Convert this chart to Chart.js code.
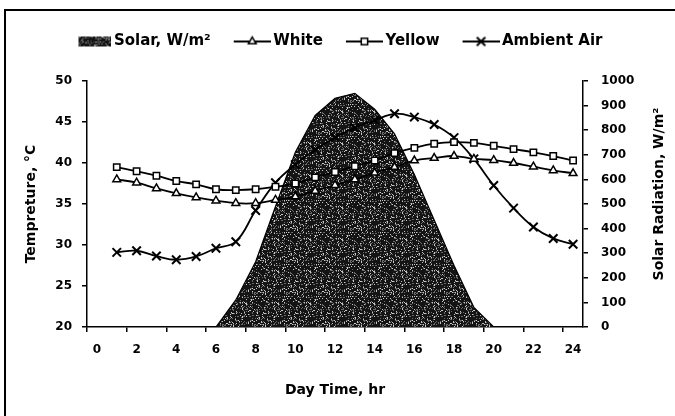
<!DOCTYPE html>
<html>
<head>
<meta charset="utf-8">
<script src="https://cdn.jsdelivr.net/npm/chart.js@4.4.1/dist/chart.umd.min.js"></script>
<style>
  html, body { margin: 0; padding: 0; background: #fff; }
  .wrap { position: relative; width: 675px; height: 416px; overflow: hidden; }
  .frame { position: absolute; left: 4px; top: 9px; width: 700px; height: 500px;
           border-left: 2px solid #000; border-top: 2px solid #000; }
  #chart { position: absolute; left: 0; top: 0; }
</style>
</head>
<body>
<div class="wrap">
  <div class="frame"></div>
  <canvas id="chart" width="675" height="416"></canvas>
</div>
<script>
// day time categories, hour 0..24
const hours = ['0','1','2','3','4','5','6','7','8','9','10','11','12',
               '13','14','15','16','17','18','19','20','21','22','23','24'];

// solar radiation, W/m2 (right axis)
const solar   = [null, 0, 0, 0, 0, 0, 0, 110, 265, 490, 710, 860, 930,
                 950, 885, 785, 620, 435, 250, 80, 0, 0, 0, 0, 0];

// temperatures, deg C (left axis)
const white   = [null, 38.0, 37.6, 36.9, 36.3, 35.8, 35.4, 35.1, 35.1, 35.5, 35.9, 36.6, 37.3,
                 38.0, 38.8, 39.5, 40.3, 40.6, 40.85, 40.5, 40.35, 40.0, 39.55, 39.1, 38.75];
const yellow  = [null, 39.5, 39.0, 38.45, 37.8, 37.4, 36.8, 36.7, 36.8, 37.1, 37.5, 38.25, 38.9,
                 39.6, 40.3, 41.2, 41.85, 42.35, 42.55, 42.45, 42.1, 41.7, 41.3, 40.85, 40.3];
const ambient = [null, 29.1, 29.3, 28.65, 28.2, 28.6, 29.6, 30.4, 34.2, 37.6, 39.8, 41.6, 43.1,
                 44.3, 45.2, 46.0, 45.6, 44.7, 43.1, 40.5, 37.25, 34.5, 32.2, 30.8, 30.1];

const tempTicks  = [20, 25, 30, 35, 40, 45, 50];
const solarTicks = [0, 100, 200, 300, 400, 500, 600, 700, 800, 900, 1000];

const font = 'DejaVu Sans';
Chart.defaults.font.family = font;
Chart.defaults.font.weight = 'bold';
Chart.defaults.font.size = 12;
Chart.defaults.color = '#000';

// dark speckled fill like the scanned area
function speckle() {
    const c = document.createElement('canvas');
    c.width = 32; c.height = 32;
    const g = c.getContext('2d');
    g.fillStyle = '#141414';
    g.fillRect(0, 0, 32, 32);
    for (let j = 0; j < 32; j++) {
        for (let i = 0; i < 32; i++) {
            const h = (((i * 73856093) ^ (j * 19349663) ^ (i * j * 83492791)) >>> 0) % 100;
            if (h < 9) g.fillStyle = '#c8c8c8';
            else if (h < 24) g.fillStyle = '#6a6a6a';
            else continue;
            g.fillRect(i, j, 1, 1);
        }
    }
    return c;
}
const speckleCanvas = speckle();
const solarFill = document.createElement('canvas').getContext('2d').createPattern(speckleCanvas, 'repeat');

// legend icons: short line with the marker in the middle
function lineIcon(style, radius, bw) {
    const c = document.createElement('canvas');
    c.width = 44; c.height = 16;
    const g = c.getContext('2d');
    g.strokeStyle = '#000';
    g.lineWidth = 2;
    g.beginPath(); g.moveTo(7, 8); g.lineTo(44, 8); g.stroke();
    g.fillStyle = '#fff';
    g.lineWidth = bw;
    Chart.helpers.drawPoint(g, { pointStyle: style, radius, borderWidth: bw }, 25.5, 8);
    return c;
}
function swatchIcon() {
    const c = document.createElement('canvas');
    c.width = 44; c.height = 16;
    const g = c.getContext('2d');
    g.fillStyle = g.createPattern(speckleCanvas, 'repeat');
    g.fillRect(11, 3, 33, 10);
    return c;
}
const icons = [swatchIcon(), lineIcon('triangle', 4.5, 1.5), lineIcon('rect', 4.5, 1.5), lineIcon('crossRot', 6, 2)];

const legendGap = {
    id: 'legendGap',
    beforeUpdate(chart) {
        const lg = chart.legend;
        if (lg && !lg._patched) {
            const fit = lg.fit;
            lg.fit = function () { fit.call(this); this.height += 22; };
            lg._patched = true;
        }
    }
};

const rightTitle = {
    id: 'rightTitle',
    afterDraw(chart) {
        const g = chart.ctx;
        const s = chart.scales.y2;
        g.save();
        g.translate(s.right - 16, (chart.chartArea.top + chart.chartArea.bottom) / 2 - 10);
        g.rotate(-Math.PI / 2);
        g.font = 'bold 14px "' + font + '"';
        g.fillStyle = '#000';
        g.textAlign = 'center';
        g.textBaseline = 'middle';
        g.fillText('Solar Radiation, W/m²', 0, 0);
        g.restore();
    }
};

const tempLine = (label, data, style, radius, bw) => ({
    type: 'line',
    label, data,
    yAxisID: 'y',
    order: 0,
    borderColor: '#000',
    borderWidth: 1.8,
    tension: 0.4,
    fill: false,
    pointStyle: style,
    pointRadius: radius,
    pointBorderWidth: bw,
    pointBackgroundColor: '#fff',
    pointBorderColor: '#000'
});

new Chart(document.getElementById('chart'), {
    type: 'line',
    data: {
        labels: hours,
        datasets: [
            {
                label: 'Solar, W/m²',
                data: solar,
                yAxisID: 'y2',
                order: 1,
                fill: 'origin',
                backgroundColor: solarFill,
                borderColor: '#000',
                borderWidth: 1.2,
                tension: 0,
                pointRadius: 0
            },
            tempLine('White', white, 'triangle', 4.5, 1.5),
            tempLine('Yellow', yellow, 'rect', 4.5, 1.5),
            tempLine('Ambient Air', ambient, 'crossRot', 6, 2)
        ]
    },
    options: {
        responsive: false,
        animation: false,
        devicePixelRatio: 1,
        layout: { padding: { top: 13, left: 0, right: 0, bottom: 0 } },
        plugins: {
            tooltip: { enabled: false },
            legend: {
                position: 'top',
                labels: {
                    usePointStyle: true,
                    pointStyleWidth: 34,
                    padding: 21,
                    color: '#000',
                    font: { family: font, weight: 'bold', size: 15 },
                    generateLabels(chart) {
                        return chart.data.datasets.map((ds, i) => ({
                            text: ds.label,
                            pointStyle: icons[i],
                            fillStyle: '#000',
                            strokeStyle: '#000',
                            lineWidth: 0,
                            hidden: false,
                            datasetIndex: i
                        }));
                    }
                }
            }
        },
        scales: {
            x: {
                type: 'category',
                offset: true,
                afterFit(s) { s.height = 89; },
                border: { display: true, color: '#000', width: 1.5 },
                grid: {
                    display: true,
                    drawOnChartArea: false,
                    drawTicks: true,
                    tickLength: 5,
                    offset: true,
                    lineWidth: 1.5,
                    color: c => c.index % 2 === 0 ? '#000' : 'rgba(0,0,0,0)'
                },
                ticks: {
                    autoSkip: false,
                    maxRotation: 0,
                    padding: 11,
                    callback: (v, i) => i % 2 === 0 ? hours[i] : ''
                },
                title: {
                    display: true,
                    text: 'Day Time, hr',
                    font: { size: 14, weight: 'bold' },
                    padding: { top: 0, bottom: 17 }
                }
            },
            y: {
                position: 'left',
                min: 20, max: 50,
                afterFit(s) { s.width = 87; },
                afterBuildTicks(s) { s.ticks = tempTicks.map(v => ({ value: v })); },
                border: { display: true, color: '#000', width: 1.5 },
                grid: { display: true, drawOnChartArea: false, tickLength: 5, lineWidth: 1.5, color: '#000' },
                ticks: { padding: 10, callback: v => String(v) },
                title: {
                    display: true,
                    text: 'Tempreture, °C',
                    font: { size: 14, weight: 'bold' },
                    padding: { top: 23, bottom: 0 }
                }
            },
            y2: {
                position: 'right',
                min: 0, max: 1000,
                afterFit(s) { s.width = 92; },
                afterBuildTicks(s) { s.ticks = solarTicks.map(v => ({ value: v })); },
                border: { display: true, color: '#000', width: 1.5 },
                grid: { display: true, drawOnChartArea: false, tickLength: 5, lineWidth: 1.5, color: '#000' },
                ticks: { padding: 13, callback: v => String(v) },
                title: { display: false }
            }
        }
    },
    plugins: [legendGap, rightTitle]
});
</script>
</body>
</html>
